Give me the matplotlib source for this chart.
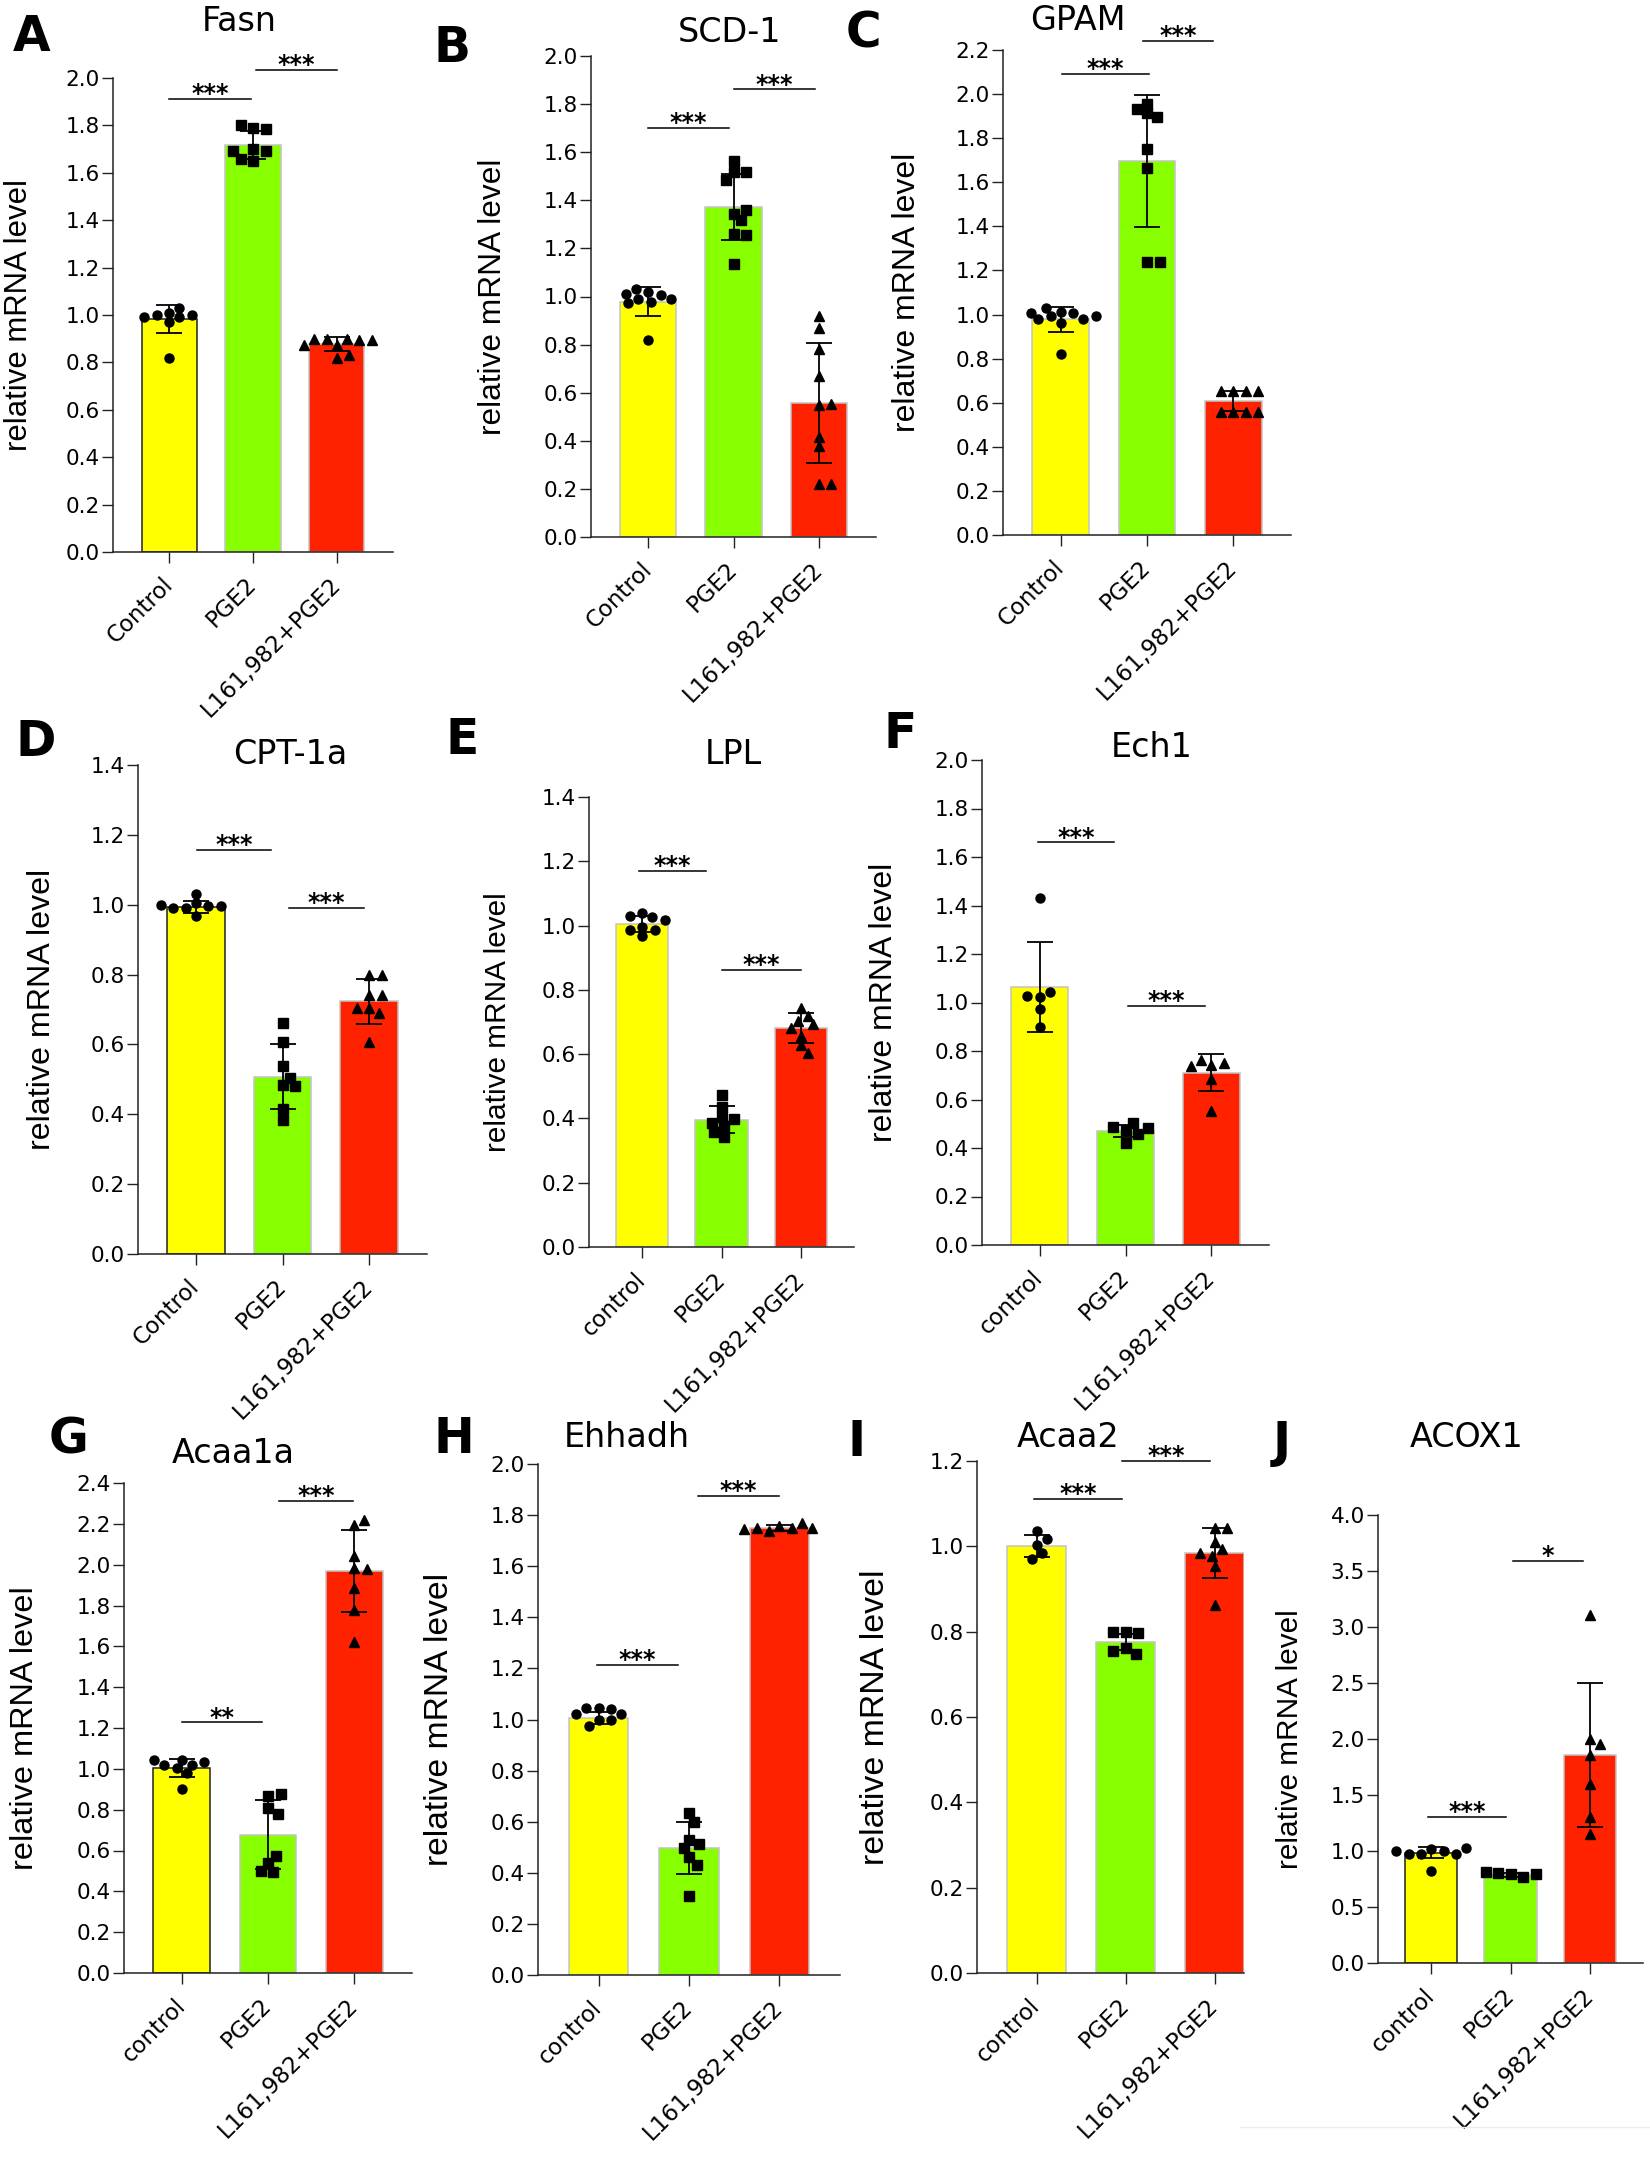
import matplotlib
matplotlib.use('Agg')
import matplotlib.pyplot as plt
from matplotlib.lines import Line2D
import numpy as np

W, H = 1650, 2157
BAR_COLORS = ['#FFFF00', '#88FF00', '#FF2200']
MARKERS = ['o', 's', '^']
GROUPS_UP = ['Control', 'PGE2', 'L161,982+PGE2']
GROUPS_LO = ['control', 'PGE2', 'L161,982+PGE2']

# ---- data (mean, SD, individual points, significance brackets) ----
FASN_MEAN = [0.982, 1.718, 0.877]
FASN_SD = [0.060, 0.059, 0.029]
FASN_CTRL = [1.01, 1.03, 1.00, 0.99, 1.00, 0.97, 0.99, 0.82]
FASN_PGE2 = [1.79, 1.785, 1.80, 1.70, 1.69, 1.65, 1.66, 1.69]
FASN_L161 = [0.874, 0.90, 0.90, 0.896, 0.90, 0.896, 0.874, 0.82, 0.83]
FASN_SIG = [(0.0, 0.98, 1.913, '***'), (1.04, 2.0, 2.035, '***')]

SCD1_MEAN = [0.979, 1.372, 0.557]
SCD1_SD = [0.059, 0.139, 0.251]
SCD1_CTRL = [1.017, 1.006, 1.03, 1.01, 0.99, 0.99, 0.977, 0.973, 0.82]
SCD1_PGE2 = [1.565, 1.517, 1.517, 1.485, 1.345, 1.359, 1.317, 1.26, 1.256, 1.134]
SCD1_L161 = [0.92, 0.868, 0.782, 0.668, 0.548, 0.553, 0.416, 0.378, 0.219, 0.219]
SCD1_SIG = [(0.0, 0.95, 1.70, '***'), (1.01, 1.95, 1.861, '***')]

GPAM_MEAN = [0.978, 1.696, 0.608]
GPAM_SD = [0.058, 0.300, 0.047]
GPAM_CTRL = [1.013, 1.005, 0.993, 0.978, 0.962, 0.978, 0.993, 1.009, 1.03, 0.822]
GPAM_PGE2 = [1.956, 1.915, 1.894, 1.933, 1.752, 1.665, 1.238, 1.238]
GPAM_L161 = [0.651, 0.651, 0.651, 0.651, 0.558, 0.558, 0.558, 0.558]
GPAM_SIG = [(0.02, 1.02, 2.09, '***'), (0.95, 1.77, 2.243, '***')]

CPT_MEAN = [0.994, 0.508, 0.723]
CPT_SD = [0.018, 0.093, 0.064]
CPT_CTRL = [1.004, 0.995, 0.991, 1.032, 0.969, 0.991, 0.995, 1.0]
CPT_PGE2 = [0.662, 0.607, 0.537, 0.483, 0.48, 0.503, 0.416, 0.384]
CPT_L161 = [0.799, 0.799, 0.742, 0.742, 0.703, 0.691, 0.703, 0.607]
CPT_SIG = [(0.01, 0.87, 1.157, '***'), (1.08, 1.94, 0.991, '***')]

LPL_MEAN = [1.004, 0.396, 0.681]
LPL_SD = [0.025, 0.042, 0.046]
LPL_CTRL = [1.039, 1.026, 1.029, 1.018, 0.997, 0.987, 0.969, 0.987]
LPL_PGE2 = [0.473, 0.435, 0.403, 0.399, 0.385, 0.375, 0.357, 0.343]
LPL_L161 = [0.744, 0.72, 0.702, 0.695, 0.681, 0.658, 0.628, 0.605]
LPL_SIG = [(-0.04, 0.80, 1.171, '***'), (1.01, 2.0, 0.862, '***')]

ECH1_MEAN = [1.064, 0.469, 0.711]
ECH1_SD = [0.186, 0.024, 0.077]
ECH1_CTRL = [1.429, 1.021, 1.043, 1.026, 0.974, 0.90]
ECH1_PGE2 = [0.473, 0.503, 0.459, 0.488, 0.484, 0.422]
ECH1_L161 = [0.743, 0.752, 0.762, 0.739, 0.686, 0.554]
ECH1_SIG = [(-0.02, 0.87, 1.66, '***'), (1.03, 1.92, 0.985, '***')]

ACAA1A_MEAN = [1.005, 0.678, 1.967]
ACAA1A_SD = [0.044, 0.168, 0.201]
ACAA1A_CTRL = [1.045, 1.021, 1.005, 0.981, 1.017, 1.033, 1.045, 0.903]
ACAA1A_PGE2 = [0.868, 0.879, 0.809, 0.78, 0.537, 0.572, 0.496, 0.501]
ACAA1A_L161 = [2.196, 2.22, 2.043, 1.986, 1.979, 1.884, 1.778, 1.619]
ACAA1A_SIG = [(0.0, 0.93, 1.227, '**'), (1.13, 1.98, 2.31, '***')]

EHHADH_MEAN = [1.007, 0.496, 1.748]
EHHADH_SD = [0.024, 0.101, 0.012]
EHHADH_CTRL = [1.044, 1.041, 1.044, 1.022, 1.022, 0.999, 0.999, 0.974]
EHHADH_PGE2 = [0.634, 0.60, 0.53, 0.511, 0.498, 0.46, 0.43, 0.308]
EHHADH_L161 = [1.756, 1.75, 1.737, 1.75, 1.769, 1.75, 1.745]
EHHADH_SIG = [(-0.02, 0.88, 1.215, '***'), (1.10, 2.0, 1.875, '***')]

ACAA2_MEAN = [1.001, 0.776, 0.984]
ACAA2_SD = [0.025, 0.019, 0.058]
ACAA2_CTRL = [1.035, 1.004, 1.018, 0.984, 0.970]
ACAA2_PGE2 = [0.80, 0.797, 0.80, 0.761, 0.747, 0.755]
ACAA2_L161 = [1.042, 1.042, 1.01, 0.993, 0.978, 0.985, 0.953, 0.863]
ACAA2_SIG = [(-0.03, 0.96, 1.112, '***'), (0.96, 1.95, 1.20, '***')]

ACOX1_MEAN = [0.986, 0.784, 1.86]
ACOX1_SD = [0.050, 0.020, 0.644]
ACOX1_CTRL = [1.02, 1.0, 0.977, 0.969, 0.977, 1.0, 1.029, 0.818]
ACOX1_PGE2 = [0.797, 0.771, 0.805, 0.792, 0.814]
ACOX1_L161 = [3.109, 1.998, 1.955, 1.86, 1.602, 1.30, 1.15]
ACOX1_SIG = [(-0.04, 0.94, 1.30, '***'), (1.03, 1.91, 3.59, '*')]

PANELS = [
    ('Fasn', FASN_MEAN, FASN_SD, [FASN_CTRL, FASN_PGE2, FASN_L161], FASN_SIG, GROUPS_UP),
    ('SCD-1', SCD1_MEAN, SCD1_SD, [SCD1_CTRL, SCD1_PGE2, SCD1_L161], SCD1_SIG, GROUPS_UP),
    ('GPAM', GPAM_MEAN, GPAM_SD, [GPAM_CTRL, GPAM_PGE2, GPAM_L161], GPAM_SIG, GROUPS_UP),
    ('CPT-1a', CPT_MEAN, CPT_SD, [CPT_CTRL, CPT_PGE2, CPT_L161], CPT_SIG, GROUPS_UP),
    ('LPL', LPL_MEAN, LPL_SD, [LPL_CTRL, LPL_PGE2, LPL_L161], LPL_SIG, GROUPS_LO),
    ('Ech1', ECH1_MEAN, ECH1_SD, [ECH1_CTRL, ECH1_PGE2, ECH1_L161], ECH1_SIG, GROUPS_LO),
    ('Acaa1a', ACAA1A_MEAN, ACAA1A_SD, [ACAA1A_CTRL, ACAA1A_PGE2, ACAA1A_L161], ACAA1A_SIG, GROUPS_LO),
    ('Ehhadh', EHHADH_MEAN, EHHADH_SD, [EHHADH_CTRL, EHHADH_PGE2, EHHADH_L161], EHHADH_SIG, GROUPS_LO),
    ('Acaa2', ACAA2_MEAN, ACAA2_SD, [ACAA2_CTRL, ACAA2_PGE2, ACAA2_L161], ACAA2_SIG, GROUPS_LO),
    ('ACOX1', ACOX1_MEAN, ACOX1_SD, [ACOX1_CTRL, ACOX1_PGE2, ACOX1_L161], ACOX1_SIG, GROUPS_LO),
]

# ---- layout (pixels in the 1650x2157 canvas) ----
# box = (left, top, right, bottom); title/letter = (x, baseline y); ylab = (x, font size)
LAYOUT = {
    'Fasn':   dict(box=(113, 78, 393, 552), ymax=2.0, ystep=0.2, xmax=2.67, title=(239, 31), letter=('A', 13, 51), ylab=(19, 22.4), dark=True),
    'SCD-1':  dict(box=(591, 56, 876, 537), ymax=2.0, ystep=0.2, xmax=2.67, title=(730, 42), letter=('B', 433, 62), ylab=(493, 22.8), dark=False),
    'GPAM':   dict(box=(1003, 50, 1291, 535), ymax=2.2, ystep=0.2, xmax=2.67, title=(1078, 30), letter=('C', 846, 48), ylab=(907, 23.0), dark=False),
    'CPT-1a': dict(box=(138, 765, 427, 1254), ymax=1.4, ystep=0.2, xmax=2.67, title=(290, 764), letter=('D', 16, 756), ylab=(42, 23.2), dark=True),
    'LPL':    dict(box=(589, 797, 854, 1247), ymax=1.4, ystep=0.2, xmax=2.67, title=(733, 764), letter=('E', 445, 754), ylab=(498, 21.4), dark=False),
    'Ech1':   dict(box=(982, 760, 1269, 1245), ymax=2.0, ystep=0.2, xmax=2.67, title=(1152, 757), letter=('F', 883, 748), ylab=(884, 23.0), dark=False),
    'Acaa1a': dict(box=(124, 1483, 412, 1973), ymax=2.4, ystep=0.2, xmax=2.67, title=(233, 1463), letter=('G', 49, 1453), ylab=(25, 23.4), dark=True),
    'Ehhadh': dict(box=(538, 1464, 840, 1975), ymax=2.0, ystep=0.2, xmax=2.67, title=(627, 1447), letter=('H', 433, 1453), ylab=(440, 24.2), dark=False),
    'Acaa2':  dict(box=(977, 1461, 1244, 1973), ymax=1.2, ystep=0.2, xmax=2.33, title=(1068, 1447), letter=('I', 847, 1456), ylab=(875, 24.4), dark=False),
    'ACOX1':  dict(box=(1378, 1515, 1643, 1963), ymax=4.0, ystep=0.5, xmax=2.67, title=(1467, 1447), letter=('J', 1273, 1457), ylab=(1290, 21.4), dark=True),
}
XMIN = -0.67
BAR_W = 0.66
DARK = '#222222'

plt.rcParams['font.family'] = 'DejaVu Sans'


def swarm(vals, ppu_y, dw=11.0, dh=9.0, step=2.5):
    # simple beeswarm: horizontal offsets (pixels) so markers do not overlap
    placed, offs = [], []
    for v in vals:
        y = v * ppu_y
        k = 0
        while True:
            cands = [0.0] if k == 0 else [k * step, -k * step]
            hit = None
            for c in cands:
                if all(((c - px) / dw) ** 2 + ((y - py) / dh) ** 2 >= 1 for px, py in placed):
                    hit = c
                    break
            if hit is not None:
                break
            k += 1
        placed.append((hit, y))
        offs.append(hit)
    return np.array(offs)


fig = plt.figure(figsize=(W / 100, H / 100), dpi=100)

for gene, means, sds, pts, sigs, groups in PANELS:
    lay = LAYOUT[gene]
    L, T, R, B = lay['box']
    ax = fig.add_axes([L / W, 1 - B / H, (R - L) / W, (B - T) / H])
    ymax, xmax = lay['ymax'], lay['xmax']
    ppu_y = (B - T) / ymax
    ppu_x = (R - L) / (xmax - XMIN)
    x = np.arange(3)

    edges = [DARK if lay['dark'] else '#c4c4c4', '#c4c4c4', '#c4c4c4']
    ax.bar(x, means, width=BAR_W, color=BAR_COLORS, edgecolor=edges, linewidth=1.1, zorder=2)

    for i, vals in enumerate(pts):
        offs = swarm(vals, ppu_y) / ppu_x
        ax.plot(i + offs, vals, ls='none', marker=MARKERS[i], ms=6.5, color='black',
                mec='black', zorder=3, clip_on=False)

    ax.errorbar(x, means, yerr=sds, fmt='none', ecolor='black', elinewidth=1.3,
                capsize=9.7, capthick=1.3, zorder=4)

    for x0, x1, yv, lab in sigs:
        ax.plot([x0, x1], [yv, yv], color='black', lw=1.1, clip_on=False, zorder=5)
        ax.annotate(lab, xy=((x0 + x1) / 2, yv), xytext=(0, -1.5), textcoords='offset points',
                    ha='center', va='baseline', fontsize=17, fontweight='bold',
                    annotation_clip=False)

    ax.set_xlim(XMIN, xmax)
    ax.set_ylim(0, ymax)
    yt = np.arange(0, ymax + 1e-9, lay['ystep'])
    ax.set_yticks(yt)
    ax.set_yticklabels([f'{v:.1f}' for v in yt], fontsize=15.5)
    ax.set_xticks(x)
    ax.set_xticklabels(groups, rotation=45, ha='right', va='center', rotation_mode='anchor',
                       fontsize=16.5)
    for s in ['top', 'right']:
        ax.spines[s].set_visible(False)
    for s in ['left', 'bottom']:
        ax.spines[s].set_color(DARK)
        ax.spines[s].set_linewidth(1.1)
    ax.tick_params(axis='both', direction='out', length=8, width=1.0, color=DARK,
                   labelcolor='black')
    ax.tick_params(axis='y', pad=1.5)
    ax.tick_params(axis='x', pad=13)
    ax.set_facecolor('none')

    tx, ty = lay['title']
    fig.text(tx / W, 1 - ty / H, gene, ha='center', va='baseline', fontsize=24)
    letter, lx, ly = lay['letter']
    fig.text(lx / W, 1 - ly / H, letter, ha='left', va='baseline', fontsize=35, fontweight='bold')
    ylx, ysz = lay['ylab']
    fig.text(ylx / W, 1 - (T + B) / 2 / H, 'relative mRNA level', rotation=90,
             ha='center', va='center', fontsize=ysz, family='Liberation Sans')

# faint separator at the lower right, as in the source figure
fig.add_artist(Line2D([1240 / W, 1.0], [1 - 2127 / H] * 2, color='#ececec', lw=1.0))

fig.savefig('out.png', dpi=100, facecolor='white')
